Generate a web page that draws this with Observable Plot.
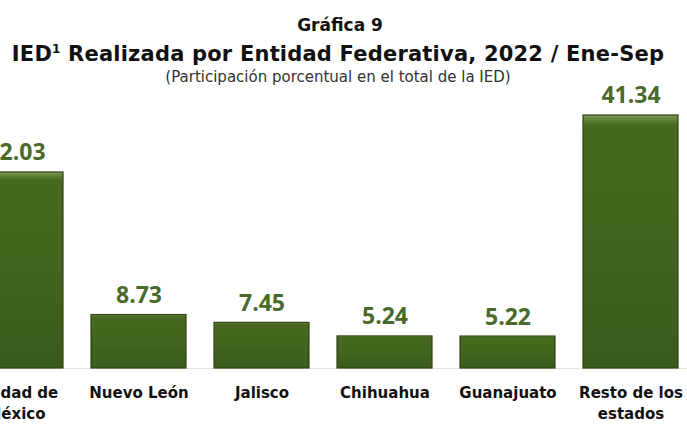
<!DOCTYPE html>
<html>
<head>
<meta charset="utf-8">
<script src="https://cdn.jsdelivr.net/npm/d3@7"></script>
<script src="https://cdn.jsdelivr.net/npm/@observablehq/plot@0.6"></script>
<style>
  html, body { margin: 0; padding: 0; background: #fff; overflow: hidden; }
  body { width: 687px; height: 425px; }
  .t1 { font-family: "DejaVu Sans", sans-serif; font-weight: bold; font-size: 17px; color: #111; text-align: center; position: absolute; left: 0; width: 680px; top: 15px; line-height: 20px; }
  .t2 { font-family: "DejaVu Sans", sans-serif; font-weight: bold; font-size: 21px; letter-spacing: 0.2px; color: #111; text-align: center; position: absolute; left: 0; width: 676px; top: 42px; line-height: 24px; }
  .t2 sup { font-size: 12px; vertical-align: 8px; line-height: 0; }
  .t3 { font-family: "DejaVu Sans", sans-serif; font-size: 15px; color: #333; text-align: center; position: absolute; left: 0; width: 676px; top: 68px; line-height: 18px; }
  #chart { position: absolute; left: 0; top: 76px; }
  #chart svg { max-width: none; }
</style>
</head>
<body>
<div class="t1">Gráfica 9</div>
<div class="t2">IED<sup>1</sup> Realizada por Entidad Federativa, 2022 / Ene-Sep</div>
<div class="t3">(Participación porcentual en el total de la IED)</div>
<div id="chart"></div>
<script>
const categories = ["Ciudad de\nMéxico", "Nuevo León", "Jalisco", "Chihuahua", "Guanajuato", "Resto de los\nestados"];
const values = [32.03, 8.73, 7.45, 5.24, 5.22, 41.34];
const valueLabels = ["32.03", "8.73", "7.45", "5.24", "5.22", "41.34"];

const data = categories.map((c, i) => ({cat: c, v: values[i], lab: valueLabels[i]}));

const plot = Plot.plot({
  width: 687,
  height: 349,
  marginTop: 0, marginBottom: 0, marginLeft: 0, marginRight: 0,
  style: {background: "transparent", overflow: "hidden"},
  x: {domain: categories, range: [-47.2, 693.8], paddingInner: 0.23, paddingOuter: 0.115, axis: null},
  y: {domain: [0, 45], range: [292, 292 - 45 * 6.12], axis: null},
  marks: [
    Plot.ruleY([0], {stroke: "#e4e4e4", strokeWidth: 1}),
    Plot.barY(data, {x: "cat", y: "v", fill: "url(#barGrad)", stroke: "#2c4414", strokeWidth: 1.2}),
    Plot.text(data, {x: "cat", y: "v", text: "lab", dy: -12, lineAnchor: "bottom", fill: "#4a6a2b", fontSize: 23, fontWeight: "bold", fontFamily: "'Open Sans', sans-serif"}),
    Plot.text(data, {x: "cat", y: 0, text: "cat", dy: 15, lineAnchor: "top", lineHeight: 1.4, fill: "#111", fontSize: 15, fontWeight: "bold", fontFamily: "'DejaVu Sans', sans-serif"})
  ]
});

const ns = "http://www.w3.org/2000/svg";
const defs = document.createElementNS(ns, "defs");
defs.innerHTML = `<linearGradient id="barGrad" x1="0" y1="0" x2="0" y2="1">
  <stop offset="0" stop-color="#7a9a55"/>
  <stop offset="0.04" stop-color="#47691f"/>
  <stop offset="0.5" stop-color="#42641e"/>
  <stop offset="1" stop-color="#3b5b1b"/>
</linearGradient>`;
plot.insertBefore(defs, plot.firstChild);
document.getElementById("chart").appendChild(plot);
</script>
</body>
</html>
